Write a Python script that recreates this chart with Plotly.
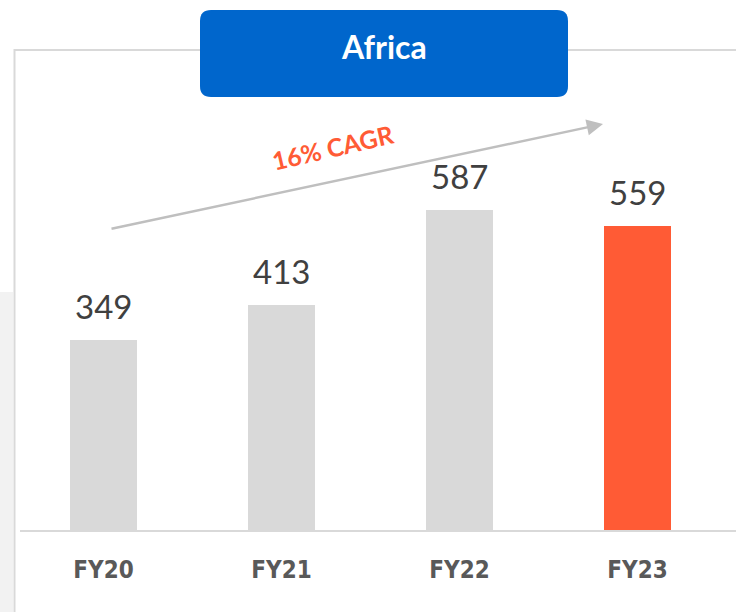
import plotly.graph_objects as go

categories = ["FY20", "FY21", "FY22", "FY23"]
values = [349, 413, 587, 559]
bar_colors = ["#d9d9d9", "#d9d9d9", "#d9d9d9", "#ff5b35"]
title_text = "Africa"
cagr_text = "16% CAGR"

W, H = 736, 612
def px(x):
    return x / W
def py(y):
    return 1 - y / H

xpos = list(range(len(categories)))

fig = go.Figure()
fig.add_trace(go.Bar(
    x=xpos, y=values, width=0.376,
    marker=dict(color=bar_colors, line=dict(width=0)),
    hoverinfo="skip",
))

for i, v in zip(xpos, values):
    fig.add_annotation(x=i, y=v, xref="x", yref="y", text=str(v), showarrow=False,
                       xanchor="center", yanchor="bottom", yshift=12,
                       font=dict(family="Lato, Open Sans, sans-serif", size=33, color="#404040"))

shapes = [
    dict(type="rect", xref="paper", yref="paper", x0=0, x1=px(13), y0=0, y1=py(292),
         fillcolor="#f2f2f2", line=dict(width=0), layer="below"),
    dict(type="line", xref="paper", yref="paper", x0=px(14.5), x1=px(14.5), y0=py(49), y1=0,
         line=dict(color="#d9d9d9", width=2)),
    dict(type="line", xref="paper", yref="paper", x0=px(14), x1=1, y0=py(50), y1=py(50),
         line=dict(color="#d9d9d9", width=2)),
]
x0, x1, y0, y1, r = 200, 568, 10, 97, 11
path = (f"M {x0+r},{y0} L {x1-r},{y0} Q {x1},{y0} {x1},{y0+r} L {x1},{y1-r} Q {x1},{y1} {x1-r},{y1} "
        f"L {x0+r},{y1} Q {x0},{y1} {x0},{y1-r} L {x0},{y0+r} Q {x0},{y0} {x0+r},{y0} Z")
def conv(p):
    out = []
    for tok in p.split(" "):
        if "," in tok:
            a, b = tok.split(",")
            out.append(f"{px(float(a)):.5f},{py(float(b)):.5f}")
        else:
            out.append(tok)
    return " ".join(out)
shapes.append(dict(type="path", xref="paper", yref="paper", path=conv(path),
                   fillcolor="#0066cc", line=dict(width=0)))

fig.add_annotation(xref="paper", yref="paper", x=px(384), y=py(47), xanchor="center", yanchor="middle",
                   text=f"<b>{title_text}</b>", showarrow=False,
                   font=dict(family="Lato, Open Sans, sans-serif", size=32, color="white"))

fig.add_annotation(xref="paper", yref="paper", x=px(603), y=py(124), axref="pixel", ayref="pixel",
                   ax=110 - 603, ay=229 - 124, text="", showarrow=True, arrowhead=2,
                   arrowsize=1.3, arrowwidth=2.5, arrowcolor="#bfbfbf", standoff=0)
fig.add_annotation(xref="paper", yref="paper", x=px(333), y=py(147), xanchor="center", yanchor="middle",
                   text=f"<b>{cagr_text}</b>", showarrow=False, textangle=-13,
                   font=dict(family="Lato, Open Sans, sans-serif", size=25, color="#ff5b35"))

fig.update_layout(
    width=W, height=H, margin=dict(l=0, r=0, t=0, b=0),
    paper_bgcolor="white", plot_bgcolor="white", showlegend=False,
    shapes=shapes, bargap=0,
    xaxis=dict(domain=[px(20), 1], range=[(20 - 103.5) / 178, (736 - 103.5) / 178],
               tickvals=xpos, ticktext=[f"<b>{c}</b>" for c in categories],
               showgrid=False, zeroline=False, showline=True, linecolor="#d9d9d9", linewidth=2,
               ticks="", ticklabelstandoff=17, fixedrange=True,
               tickfont=dict(family="DejaVu Sans Condensed, Liberation Sans Narrow, Lato, sans-serif",
                             size=24, color="#595959")),
    yaxis=dict(domain=[82 / H, 1], range=[0, 530 / (190 / 349)], visible=False, fixedrange=True),
)

fig.write_html("out.html", config={"displayModeBar": False},
               post_script="document.body.style.margin='0';")
